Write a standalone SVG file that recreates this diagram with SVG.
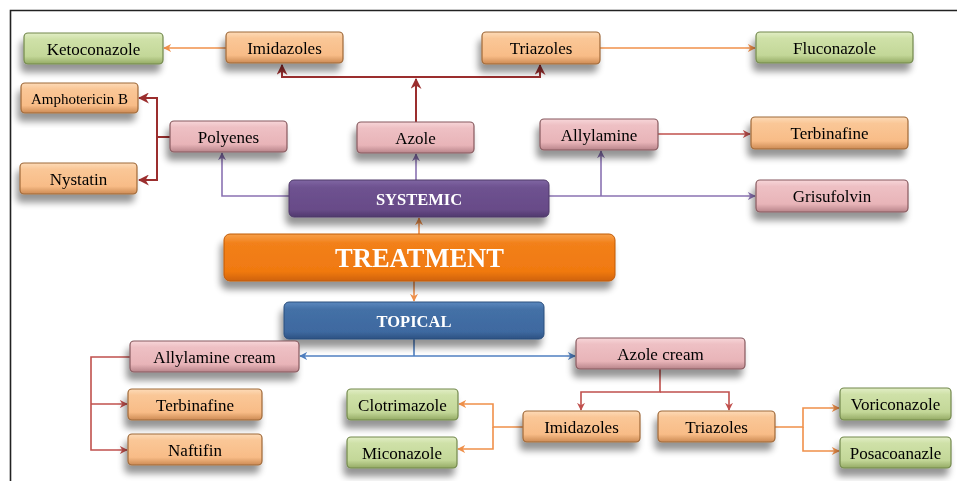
<svg xmlns="http://www.w3.org/2000/svg" width="957" height="481" viewBox="0 0 957 481">
<defs>
<style>
.t{font-family:"Liberation Serif","Times New Roman",serif;font-size:17px;fill:#000000;text-anchor:middle}
.tw{font-family:"Liberation Serif","Times New Roman",serif;font-weight:bold;fill:#ffffff;text-anchor:middle}
.box{stroke-width:1.2}
.g{fill:url(#gGreen);stroke:#72884C}
.o{fill:url(#gOrange);stroke:#9E6838}
.p{fill:url(#gPink);stroke:#86595E}
.c{fill:none}
.dr{stroke:#9B2E2E;stroke-width:2}
.rd{stroke:#C0504D;stroke-width:1.6}
.or{stroke:#F0904A;stroke-width:1.6}
.pu{stroke:#8A72B2;stroke-width:1.6}
.bl{stroke:#4F7FC0;stroke-width:1.6}
</style>
<linearGradient id="gGreen" x1="0" y1="0" x2="0" y2="1">
<stop offset="0" stop-color="#E2EEC6"/><stop offset="0.2" stop-color="#CFE1A8"/><stop offset="0.75" stop-color="#C3D798"/><stop offset="1" stop-color="#94AA64"/>
</linearGradient>
<linearGradient id="gOrange" x1="0" y1="0" x2="0" y2="1">
<stop offset="0" stop-color="#FDDBB8"/><stop offset="0.2" stop-color="#FAC797"/><stop offset="0.75" stop-color="#F8BC87"/><stop offset="1" stop-color="#CC8A54"/>
</linearGradient>
<linearGradient id="gPink" x1="0" y1="0" x2="0" y2="1">
<stop offset="0" stop-color="#F7D6D9"/><stop offset="0.2" stop-color="#EEC0C4"/><stop offset="0.75" stop-color="#E8B4B8"/><stop offset="1" stop-color="#B8848A"/>
</linearGradient>
<linearGradient id="gPurple" x1="0" y1="0" x2="0" y2="1">
<stop offset="0" stop-color="#8066A3"/><stop offset="0.2" stop-color="#6E5290"/><stop offset="0.8" stop-color="#684B88"/><stop offset="1" stop-color="#50386E"/>
</linearGradient>
<linearGradient id="gTreat" x1="0" y1="0" x2="0" y2="1">
<stop offset="0" stop-color="#F7A04A"/><stop offset="0.2" stop-color="#F2801A"/><stop offset="0.8" stop-color="#F07910"/><stop offset="1" stop-color="#CF620A"/>
</linearGradient>
<linearGradient id="gBlue" x1="0" y1="0" x2="0" y2="1">
<stop offset="0" stop-color="#5C88BE"/><stop offset="0.2" stop-color="#4470A6"/><stop offset="0.8" stop-color="#3E69A0"/><stop offset="1" stop-color="#2D5282"/>
</linearGradient>
<filter id="sh" x="-10%" y="-20%" width="120%" height="170%">
<feGaussianBlur in="SourceAlpha" stdDeviation="3.5"/>
<feOffset dx="-3" dy="8" result="b"/>
<feComponentTransfer><feFuncA type="linear" slope="0.42"/></feComponentTransfer>
<feMerge><feMergeNode/><feMergeNode in="SourceGraphic"/></feMerge>
</filter>
<marker id="aDr" viewBox="0 0 10 10" refX="9" refY="5" markerWidth="11" markerHeight="11" markerUnits="userSpaceOnUse" orient="auto"><path d="M0,0 L10,5 L0,10 L3,5 z" fill="#9B2E2E"/></marker>
<marker id="aRd" viewBox="0 0 10 10" refX="9" refY="5" markerWidth="8" markerHeight="8" markerUnits="userSpaceOnUse" orient="auto"><path d="M0,0 L10,5 L0,10 L3,5 z" fill="#C0504D"/></marker>
<marker id="aOr" viewBox="0 0 10 10" refX="9" refY="5" markerWidth="8" markerHeight="8" markerUnits="userSpaceOnUse" orient="auto"><path d="M0,0 L10,5 L0,10 L3,5 z" fill="#F0904A"/></marker>
<marker id="aPu" viewBox="0 0 10 10" refX="9" refY="5" markerWidth="8" markerHeight="8" markerUnits="userSpaceOnUse" orient="auto"><path d="M0,0 L10,5 L0,10 L3,5 z" fill="#8A72B2"/></marker>
<marker id="aBl" viewBox="0 0 10 10" refX="9" refY="5" markerWidth="8" markerHeight="8" markerUnits="userSpaceOnUse" orient="auto"><path d="M0,0 L10,5 L0,10 L3,5 z" fill="#4F7FC0"/></marker>
</defs>
<rect width="957" height="481" fill="#ffffff"/>
<path d="M10.5,481 V10.5 H957" fill="none" stroke="#222" stroke-width="1.6"/>

<g id="connectors" fill="none">
<path class="c dr" d="M416,122 V79" marker-end="url(#aDr)"/>
<path class="c dr" d="M416,77 H282 V65" marker-end="url(#aDr)"/>
<path class="c dr" d="M416,77 H540 V65" marker-end="url(#aDr)"/>
<path class="c dr" d="M170,137 H157 V98 H139" marker-end="url(#aDr)"/>
<path class="c dr" d="M157,137 V180 H139" marker-end="url(#aDr)"/>
<path class="c rd" d="M658,134 H750" marker-end="url(#aRd)"/>
<path class="c rd" d="M130,357 H91 V450 H127" marker-end="url(#aRd)"/>
<path class="c rd" d="M91,404 H127" marker-end="url(#aRd)"/>
<path class="c rd" d="M660,369 V392 H581 V410" marker-end="url(#aRd)"/>
<path class="c rd" d="M660,392 H729 V410" marker-end="url(#aRd)"/>
<path class="c or" d="M226,48 H164" marker-end="url(#aOr)"/>
<path class="c or" d="M600,48 H755" marker-end="url(#aOr)"/>
<path class="c or" d="M419,234 V218" marker-end="url(#aOr)"/>
<path class="c or" d="M414,281 V301" marker-end="url(#aOr)"/>
<path class="c or" d="M523,427 H493 V404 H459" marker-end="url(#aOr)"/>
<path class="c or" d="M493,427 V449 H458" marker-end="url(#aOr)"/>
<path class="c or" d="M775,427 H803 V408 H839" marker-end="url(#aOr)"/>
<path class="c or" d="M803,427 V451 H839" marker-end="url(#aOr)"/>
<path class="c pu" d="M289,196 H222 V153" marker-end="url(#aPu)"/>
<path class="c pu" d="M416,180 V154" marker-end="url(#aPu)"/>
<path class="c pu" d="M549,196 H755" marker-end="url(#aPu)"/>
<path class="c pu" d="M601,196 V151" marker-end="url(#aPu)"/>
<path class="c bl" d="M414,339 V356"/>
<path class="c bl" d="M414,356 H300" marker-end="url(#aBl)"/>
<path class="c bl" d="M414,356 H575" marker-end="url(#aBl)"/>
</g>

<g id="ketoconazole" filter="url(#sh)"><rect class="box g" x="24" y="33" width="139" height="31" rx="4"/><text class="t" x="93.5" y="54.5">Ketoconazole</text></g>
<g id="imidazoles-top" filter="url(#sh)"><rect class="box o" x="226" y="32" width="117" height="31" rx="4"/><text class="t" x="284.5" y="53.5">Imidazoles</text></g>
<g id="triazoles-top" filter="url(#sh)"><rect class="box o" x="482" y="32" width="118" height="32" rx="4"/><text class="t" x="541" y="54">Triazoles</text></g>
<g id="fluconazole" filter="url(#sh)"><rect class="box g" x="756" y="32" width="157" height="31" rx="4"/><text class="t" x="834.5" y="53.5">Fluconazole</text></g>
<g id="amphotericin" filter="url(#sh)"><rect class="box o" x="21" y="83" width="117" height="30" rx="4"/><text class="t" x="79.5" y="103.5" style="font-size:15px">Amphotericin B</text></g>
<g id="nystatin" filter="url(#sh)"><rect class="box o" x="20" y="163" width="117" height="31" rx="4"/><text class="t" x="78.5" y="185">Nystatin</text></g>
<g id="polyenes" filter="url(#sh)"><rect class="box p" x="170" y="121" width="117" height="31" rx="4"/><text class="t" x="228.5" y="143">Polyenes</text></g>
<g id="azole" filter="url(#sh)"><rect class="box p" x="357" y="122" width="117" height="31" rx="4"/><text class="t" x="415.5" y="144">Azole</text></g>
<g id="allylamine" filter="url(#sh)"><rect class="box p" x="540" y="119" width="118" height="31" rx="4"/><text class="t" x="599" y="141">Allylamine</text></g>
<g id="terbinafine-top" filter="url(#sh)"><rect class="box o" x="751" y="117" width="157" height="32" rx="4"/><text class="t" x="829.5" y="139">Terbinafine</text></g>
<g id="grisufolvin" filter="url(#sh)"><rect class="box p" x="756" y="180" width="152" height="32" rx="4"/><text class="t" x="832" y="202">Grisufolvin</text></g>
<g id="systemic" filter="url(#sh)"><rect x="289" y="180" width="260" height="37" rx="5" fill="url(#gPurple)" stroke="#4E3A68" stroke-width="1"/><text class="tw" x="419" y="205" style="font-size:16.5px">SYSTEMIC</text></g>
<g id="treatment" filter="url(#sh)"><rect x="224" y="234" width="391" height="47" rx="6" fill="url(#gTreat)" stroke="#C05A08" stroke-width="1"/><text class="tw" x="419.5" y="267" style="font-size:26.5px">TREATMENT</text></g>
<g id="topical" filter="url(#sh)"><rect x="284" y="302" width="260" height="37" rx="5" fill="url(#gBlue)" stroke="#2B4E7C" stroke-width="1"/><text class="tw" x="414" y="327" style="font-size:16.5px">TOPICAL</text></g>
<g id="allylamine-cream" filter="url(#sh)"><rect class="box p" x="130" y="341" width="169" height="31" rx="4"/><text class="t" x="214.5" y="363">Allylamine cream</text></g>
<g id="azole-cream" filter="url(#sh)"><rect class="box p" x="576" y="338" width="169" height="31" rx="4"/><text class="t" x="660.5" y="360">Azole cream</text></g>
<g id="terbinafine-bottom" filter="url(#sh)"><rect class="box o" x="128" y="389" width="134" height="31" rx="4"/><text class="t" x="195" y="411">Terbinafine</text></g>
<g id="naftifin" filter="url(#sh)"><rect class="box o" x="128" y="434" width="134" height="31" rx="4"/><text class="t" x="195" y="456">Naftifin</text></g>
<g id="clotrimazole" filter="url(#sh)"><rect class="box g" x="347" y="389" width="111" height="31" rx="4"/><text class="t" x="402.5" y="411">Clotrimazole</text></g>
<g id="miconazole" filter="url(#sh)"><rect class="box g" x="347" y="437" width="110" height="31" rx="4"/><text class="t" x="402" y="459">Miconazole</text></g>
<g id="imidazoles-bottom" filter="url(#sh)"><rect class="box o" x="523" y="411" width="117" height="31" rx="4"/><text class="t" x="581.5" y="433">Imidazoles</text></g>
<g id="triazoles-bottom" filter="url(#sh)"><rect class="box o" x="658" y="411" width="117" height="31" rx="4"/><text class="t" x="716.5" y="433">Triazoles</text></g>
<g id="voriconazole" filter="url(#sh)"><rect class="box g" x="840" y="388" width="111" height="32" rx="4"/><text class="t" x="895.5" y="410">Voriconazole</text></g>
<g id="posacoanazle" filter="url(#sh)"><rect class="box g" x="840" y="437" width="111" height="31" rx="4"/><text class="t" x="895.5" y="459">Posacoanazle</text></g>
</svg>
